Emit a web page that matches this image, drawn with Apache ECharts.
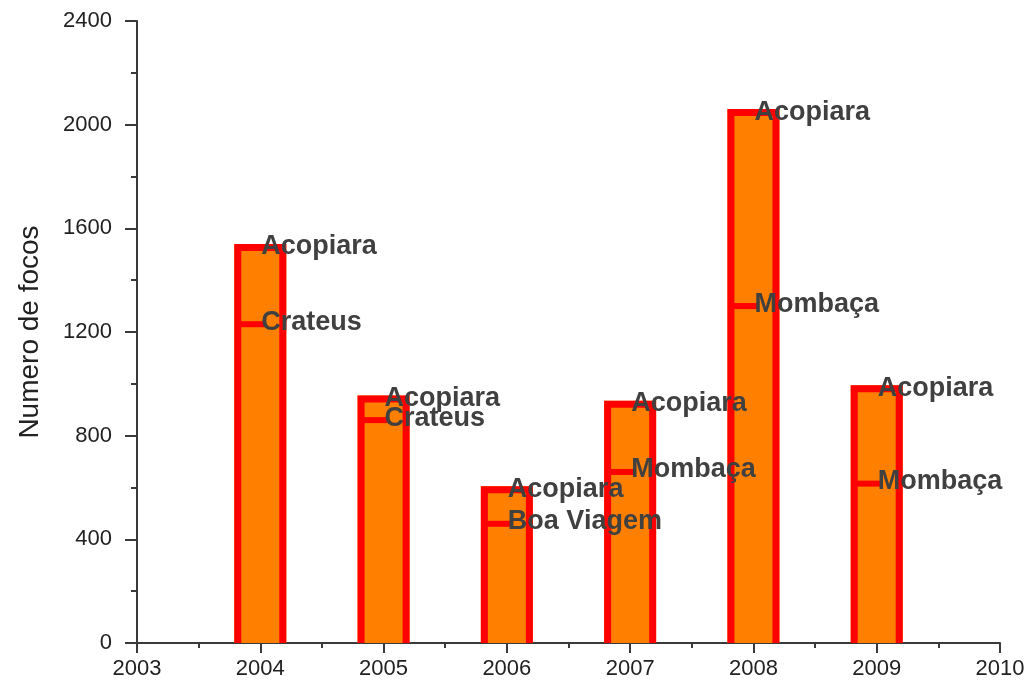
<!DOCTYPE html>
<html><head><meta charset="utf-8">
<script src="https://cdn.jsdelivr.net/npm/echarts@6/dist/echarts.min.js"></script>
<style>html,body{margin:0;padding:0;background:#fff}#c{width:1032px;height:688px}</style>
</head><body><div id="c"></div>
<script>
var years = [2004, 2005, 2006, 2007, 2008, 2009];
var totals = [1540, 955, 605, 935, 2060, 995];
var topLabels = ['Acopiara', 'Acopiara', 'Acopiara', 'Acopiara', 'Acopiara', 'Acopiara'];
var secondValues = [1230, 860, 460, 660, 1300, 615];
var secondLabels = ['Crateus', 'Crateus', 'Boa Viagem', 'Mombaça', 'Mombaça', 'Mombaça'];
var yTicks = [0, 400, 800, 1200, 1600, 2000, 2400];
var xTicks = [2003, 2004, 2005, 2006, 2007, 2008, 2009, 2010];

var barData = years.map(function (y, i) { return [y, totals[i]]; });
var markData = [];
years.forEach(function (y, i) {
  markData.push([y, secondValues[i], 1, i]);
  markData.push([y, totals[i], 0, i]);
});

var chart = echarts.init(document.getElementById('c'));
var axisCol = '#3a3a3a';
chart.setOption({
  animation: false,
  backgroundColor: '#fff',
  grid: { left: 137, right: 32, top: 21, bottom: 45 },
  xAxis: {
    type: 'value', min: xTicks[0], max: xTicks[xTicks.length - 1], interval: 1,
    axisLine: { show: true, onZero: false, lineStyle: { color: axisCol, width: 2 } },
    axisTick: { show: true, length: 10, lineStyle: { color: axisCol, width: 2 } },
    minorTick: { show: true, splitNumber: 2, length: 5, lineStyle: { color: axisCol, width: 2 } },
    splitLine: { show: false },
    axisLabel: { color: '#222', fontSize: 22, fontFamily: 'Liberation Sans, Arial', margin: 15,
      formatter: function (v) { return String(v); } }
  },
  yAxis: {
    type: 'value', min: yTicks[0], max: yTicks[yTicks.length - 1], interval: 400,
    name: 'Numero de focos', nameLocation: 'middle', nameGap: 93, nameRotate: 90,
    nameTextStyle: { color: '#222', fontSize: 28, fontFamily: 'Liberation Sans, Arial' },
    axisLine: { show: true, lineStyle: { color: axisCol, width: 2 } },
    axisTick: { show: true, length: 12, lineStyle: { color: axisCol, width: 2 } },
    minorTick: { show: true, splitNumber: 2, length: 6, lineStyle: { color: axisCol, width: 2 } },
    splitLine: { show: false },
    axisLabel: { color: '#222', fontSize: 22, fontFamily: 'Liberation Sans, Arial', margin: 25,
      formatter: function (v) { return String(v); } }
  },
  series: [
    {
      type: 'custom', data: barData, z: 2,
      renderItem: function (params, api) {
        var base = api.coord([api.value(0), 0]);
        var top = api.coord([api.value(0), api.value(1)]);
        var half = 26, bw = 7, cx = top[0];
        return { type: 'group', children: [
          { type: 'rect', shape: { x: cx - half, y: top[1], width: half * 2, height: base[1] - top[1] },
            style: { fill: '#ff8000' } },
          { type: 'polyline', shape: { points: [
              [cx - half + bw / 2, base[1]], [cx - half + bw / 2, top[1] + bw / 2],
              [cx + half - bw / 2, top[1] + bw / 2], [cx + half - bw / 2, base[1]] ] },
            style: { stroke: '#ff0000', lineWidth: bw, fill: null, lineJoin: 'miter' } }
        ] };
      }
    },
    {
      type: 'custom', data: markData, z: 5,
      renderItem: function (params, api) {
        var p = api.coord([api.value(0), api.value(1)]);
        var isMid = api.value(2) === 1;
        var idx = api.value(3);
        var children = [];
        var ty = p[1];
        if (isMid) {
          children.push({ type: 'line', shape: { x1: p[0] - 24, y1: p[1], x2: p[0] + 4, y2: p[1] },
            style: { stroke: '#ff0000', lineWidth: 6 } });
          ty = p[1] - 2;
        } else {
          ty = p[1] + 3;
        }
        children.push({ type: 'text', x: p[0] + 1, y: ty,
          style: { text: isMid ? secondLabels[idx] : topLabels[idx], fill: '#404040',
            font: 'bold 27px "Liberation Sans", Arial', align: 'left', verticalAlign: 'middle' } });
        return { type: 'group', children: children };
      }
    }
  ]
});
</script></body></html>
